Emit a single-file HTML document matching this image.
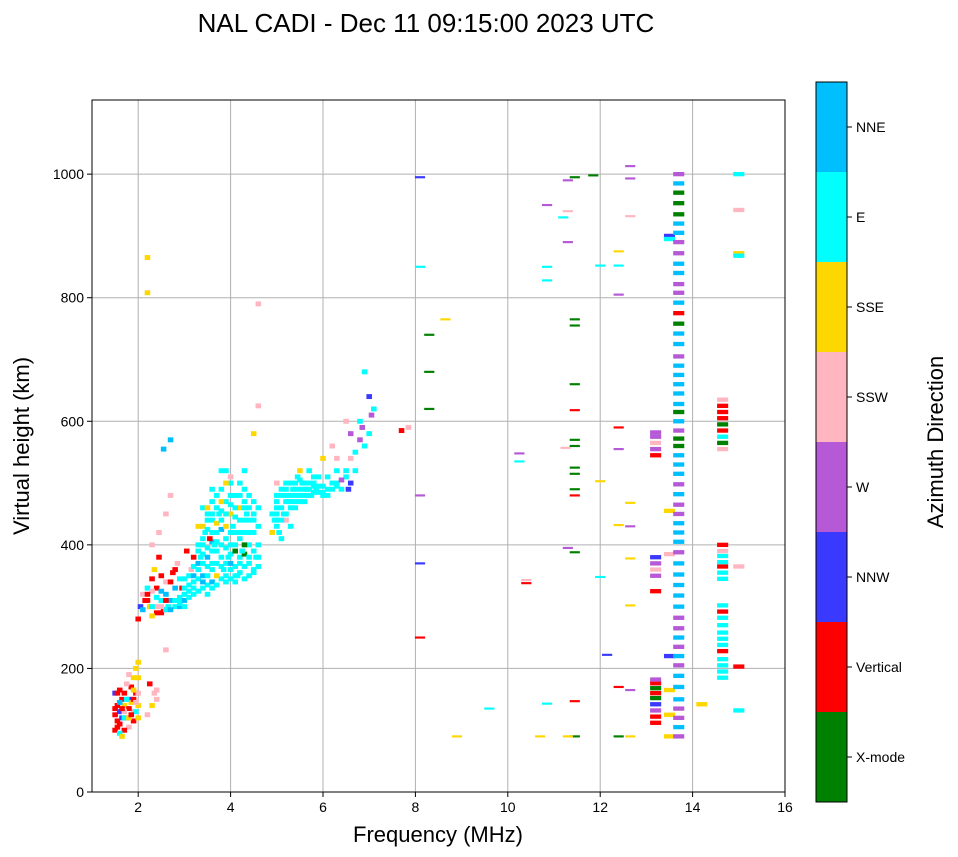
<!DOCTYPE html>
<html><head><meta charset="utf-8"><style>
html,body{margin:0;padding:0;background:#fff;width:958px;height:857px;overflow:hidden}
svg{display:block;font-family:"Liberation Sans","DejaVu Sans",sans-serif}
</style></head><body>
<svg id="chart" width="958" height="857"></svg>
<script>
const categories = ["X-mode","Vertical","NNW","W","SSW","SSE","E","NNE"];
const catColors = ["#008000","#ff0000","#3a3aff","#b659d6","#ffb6c1","#ffd700","#00ffff","#00bfff"];
const xTicks = [2,4,6,8,10,12,14,16];
const yTicks = [0,200,400,600,800,1000];
// [frequency MHz, virtual height km, direction index]
const points = [
[1.5,100,1],[1.55,115,1],[1.6,130,2],[1.65,150,1],[1.5,160,2],[1.7,140,5],[1.75,120,1],[1.8,105,4],[1.85,170,1],[1.9,185,5],[1.95,200,5],[2.0,210,5],[1.6,110,1],[1.7,160,1],[1.8,150,2],[1.9,130,4],[1.95,160,1],[2.0,140,5],[1.55,140,1],[1.65,120,2],[1.75,175,4],[1.85,145,5],[1.9,115,1],[1.7,100,1],[1.6,95,6],[1.8,190,4],[2.25,175,1],[2.35,160,4],[2.4,150,4],[2.3,140,5],[2.2,125,4],[2.4,165,4],[1.5,125,1],[1.6,145,7],[1.7,120,6],[1.8,135,1],[1.55,160,1],[2.0,185,5],[1.95,130,6],[1.65,90,5],[2.2,865,5],[2.2,808,5],
[1.5,135,1],[1.6,165,1],[1.7,130,4],[1.8,120,5],[1.9,150,1],[2.0,160,4],[1.55,105,1],[1.75,150,6],[1.85,125,1],[1.95,145,4],[2.0,120,5],[1.65,135,1],[1.9,165,5],
[2.0,280,1],[2.05,300,2],[2.1,320,4],[2.15,310,1],[2.2,330,6],[2.25,300,5],[2.3,345,1],[2.35,360,5],[2.4,300,4],[2.45,380,1],[2.5,310,6],[2.55,295,1],[2.6,340,4],[2.65,300,6],[2.75,355,1],[2.8,300,6],[2.85,370,4],[2.9,310,6],[2.95,330,1],[3.0,320,6],[3.05,390,1],[3.1,325,6],[3.15,360,4],[3.2,330,6],[2.3,400,4],[2.45,420,4],[2.6,450,4],[2.7,480,4],[2.55,555,7],[2.7,570,7],[2.3,300,6],[2.5,290,1],[2.6,295,6],[2.9,300,7],[3.0,300,6],[2.4,330,1],[2.5,350,1],[2.7,310,7],[2.8,330,7],[2.9,345,6],[2.6,320,7],[2.4,315,6],[2.8,360,1],[2.3,325,4],[2.2,310,1],[2.1,295,7],[2.6,230,4],
[2.5,300,4],[2.6,310,1],[2.7,295,7],[2.8,310,6],[2.4,290,1],[2.5,325,7],[2.7,340,1],[2.2,320,1],[2.3,285,5],
[2.9,305,6],[2.9,315,6],[3.0,310,7],[3.0,330,6],[3.1,315,6],[3.1,335,6],[3.1,350,6],[3.2,320,6],[3.2,350,7],[3.2,365,6],[3.3,325,6],[3.3,345,6],[3.3,370,7],[3.3,390,6],[3.4,330,6],[3.4,350,7],[3.4,385,6],[3.4,410,6],[3.4,430,5],[3.5,335,6],[3.5,365,6],[3.5,395,6],[3.5,425,6],[3.5,450,6],[3.6,340,7],[3.6,360,6],[3.6,390,6],[3.6,405,7],[3.6,440,6],[3.6,470,6],[3.7,335,6],[3.7,370,6],[3.7,405,6],[3.7,435,5],[3.7,460,6],[3.8,345,6],[3.8,365,6],[3.8,400,6],[3.8,425,7],[3.8,455,6],[3.8,490,6],[3.9,350,6],[3.9,370,6],[3.9,395,6],[3.9,430,5],[3.9,470,6],[3.9,520,6],[4.0,345,6],[4.0,360,6],[4.0,385,6],[4.0,420,6],[4.0,450,5],[4.0,465,6],[4.0,500,6],[4.1,350,6],[4.1,365,6],[4.1,400,6],[4.1,445,6],[4.1,480,6],[4.2,355,6],[4.2,380,6],[4.2,420,6],[4.2,460,5],[4.2,480,6],[4.3,345,6],[4.3,365,6],[4.3,385,0],[4.3,440,6],[4.3,460,6],[4.3,490,6],[4.4,350,6],[4.4,380,6],[4.4,400,6],[4.4,440,6],[4.4,460,6],[4.5,355,6],[4.5,390,6],[4.5,420,6],[4.5,450,6],[4.6,365,6],[4.6,380,6],[4.6,430,6],
[3.2,340,6],[3.3,360,6],[3.35,380,6],[3.4,400,6],[3.45,420,6],[3.5,440,6],[3.3,430,5],[3.5,350,6],[3.6,370,6],[3.65,400,6],[3.7,420,6],[3.75,450,6],[3.8,470,5],[3.85,360,6],[3.9,340,6],[3.95,380,6],[4.0,400,6],[4.05,430,6],[4.1,460,6],[4.15,350,6],[4.2,370,6],[4.25,390,6],[4.3,420,6],[4.35,450,6],[4.4,480,6],[4.5,360,6],[4.55,380,6],[3.6,490,6],[3.8,520,6],[3.9,500,5],[4.0,510,4],[4.2,500,6],[4.5,470,6],[3.4,460,6],[3.6,330,6],[3.7,350,5],[4.1,340,6],[4.3,400,0],[3.55,410,1],[3.2,380,1],[3.0,345,6],[4.4,420,6],[4.6,400,6],[3.4,340,7],[3.5,380,7],[3.6,420,6],[3.7,390,6],[3.8,440,6],[3.9,410,6],[4.0,370,7],[4.1,420,6],[4.2,440,6],[4.3,470,6],[3.3,400,6],[3.4,370,6],[3.5,460,5],[3.8,380,6],[3.9,450,6],[4.0,480,6],[4.2,410,6],[4.4,370,6],[4.5,440,6],[3.6,450,6],[3.7,480,6],[4.1,390,0],[3.5,320,6],[4.3,520,6],[4.6,460,6],[4.5,580,5],[4.6,625,4],[4.6,790,4],
[4.9,420,5],[4.95,440,6],[5.0,460,6],[5.05,420,6],[5.1,480,6],[5.15,450,6],[5.2,500,6],[5.25,470,6],[5.3,430,6],[5.35,490,6],[5.4,460,6],[5.45,510,6],[5.5,480,6],[5.55,500,6],[5.6,470,6],[5.65,490,6],[5.7,520,6],[5.75,480,6],[5.8,500,6],[5.85,490,6],[5.9,510,6],[5.0,500,4],[5.2,440,4],[5.5,520,5],[4.9,450,6],[5.1,410,6],[5.3,470,6],[5.4,490,6],[5.6,500,6],[5.7,490,6],[5.9,485,6],[5.2,470,6],[5.0,440,6],[5.3,500,6],
[5.0,430,6],[5.0,450,6],[5.0,470,6],[5.0,480,6],[5.1,440,6],[5.1,460,6],[5.1,490,6],[5.2,450,6],[5.2,480,6],[5.2,490,6],[5.3,460,6],[5.3,480,6],[5.4,470,6],[5.4,480,6],[5.4,500,6],[5.5,470,6],[5.5,490,6],[5.5,505,6],[5.6,480,6],[5.6,490,6],[5.7,480,6],[5.7,500,6],[5.8,485,6],[5.8,495,6],[5.8,510,6],[6.0,495,6],[6.1,480,6],[6.2,490,6],[6.3,500,6],[6.5,510,6],[5.9,495,6],[6.0,480,6],
[6.0,485,6],[6.1,490,6],[6.2,500,6],[6.3,495,6],[6.4,505,3],[6.5,520,6],[6.55,490,2],[6.6,540,4],[6.7,550,6],[6.8,570,3],[6.85,590,3],[6.9,560,6],[7.0,580,6],[7.05,610,3],[7.0,640,2],[6.9,680,6],[6.3,540,4],[6.2,560,4],[6.5,600,4],[6.0,540,5],[6.6,580,3],[7.7,585,1],[7.85,590,4],[6.4,490,6],[6.6,500,2],[6.7,520,6],[6.1,510,6],[6.3,520,6],[6.8,600,6],[7.1,620,6],
[8.1,995,2],[8.1,850,6],[8.3,740,0],[8.3,680,0],[8.3,620,0],[8.65,765,5],[8.1,480,3],[8.1,370,2],[8.1,250,1],[8.9,90,5],[9.6,135,6],[10.25,548,3],[10.25,535,6],[10.4,343,4],[10.4,338,1],[10.7,90,5],[10.85,950,3],[10.85,850,6],[10.85,828,6],[10.85,143,6],[11.2,930,6],[11.3,990,3],[11.3,940,4],[11.3,890,3],[11.3,395,3],[11.25,557,4],[11.45,765,0],[11.45,755,0],[11.45,660,0],[11.45,618,1],[11.45,570,0],[11.45,560,0],[11.45,525,0],[11.45,515,0],[11.45,490,0],[11.45,480,1],[11.45,388,0],[11.45,147,1],[11.45,90,0],[11.3,90,5],[11.45,995,0],[11.85,998,0],[12.0,852,6],[12.0,503,5],[12.0,348,6],[12.15,222,2],[12.4,875,5],[12.4,852,6],[12.4,805,3],[12.4,590,1],[12.4,555,3],[12.4,432,5],[12.4,170,1],[12.4,90,0],[12.65,1013,3],[12.65,993,3],[12.65,932,4],[12.65,468,5],[12.65,430,3],[12.65,378,5],[12.65,302,5],[12.65,165,3],[12.65,90,5],
[13.2,112,1],[13.2,122,1],[13.2,132,3],[13.2,142,2],[13.2,152,0],[13.2,160,1],[13.2,168,0],[13.2,176,1],[13.2,182,3],[13.2,325,1],[13.2,350,3],[13.2,360,4],[13.2,370,3],[13.2,380,2],[13.2,545,1],[13.2,555,3],[13.2,565,4],[13.2,575,3],[13.2,582,3],[13.5,455,5],[13.5,220,2],[13.5,165,5],[13.5,125,5],[13.5,90,5],[13.5,385,4],[13.5,900,2],[13.5,895,6],
[13.7,90,3],[13.7,105,7],[13.7,120,3],[13.7,135,3],[13.7,150,7],[13.7,170,7],[13.7,188,7],[13.7,205,3],[13.7,220,7],[13.7,235,3],[13.7,250,7],[13.7,265,3],[13.7,282,3],[13.7,300,7],[13.7,318,7],[13.7,335,7],[13.7,352,7],[13.7,370,7],[13.7,388,3],[13.7,405,7],[13.7,420,7],[13.7,435,7],[13.7,450,3],[13.7,465,3],[13.7,482,7],[13.7,498,3],[13.7,515,7],[13.7,530,7],[13.7,545,7],[13.7,560,0],[13.7,572,0],[13.7,585,3],[13.7,600,7],[13.7,615,0],[13.7,628,7],[13.7,645,7],[13.7,660,7],[13.7,675,7],[13.7,690,7],[13.7,705,3],[13.7,725,7],[13.7,742,7],[13.7,758,0],[13.7,775,1],[13.7,792,7],[13.7,808,3],[13.7,822,3],[13.7,840,7],[13.7,855,7],[13.7,872,3],[13.7,890,3],[13.7,905,7],[13.7,920,7],[13.7,935,0],[13.7,953,0],[13.7,970,0],[13.7,985,7],[13.7,1000,3],
[14.2,142,5],[14.65,185,6],[14.65,195,6],[14.65,205,6],[14.65,215,6],[14.65,228,1],[14.65,238,6],[14.65,248,6],[14.65,258,6],[14.65,270,6],[14.65,282,6],[14.65,292,1],[14.65,302,6],[14.65,345,6],[14.65,355,6],[14.65,365,1],[14.65,372,6],[14.65,382,6],[14.65,390,4],[14.65,400,1],[14.65,555,4],[14.65,565,0],[14.65,575,6],[14.65,585,1],[14.65,595,0],[14.65,605,1],[14.65,615,1],[14.65,625,1],[14.65,635,4],
[15.0,1000,6],[15.0,942,4],[15.0,872,5],[15.0,868,6],[15.0,365,4],[15.0,203,1],[15.0,132,6]
];

const NS="http://www.w3.org/2000/svg";
const svg=document.getElementById('chart');
const L=92,R=785,T=100,B=792;
const xMin=1,xMax=16,yMin=0,yMax=1120;
const xS=f=>L+(f-xMin)/(xMax-xMin)*(R-L);
const yS=h=>B-(h-yMin)/(yMax-yMin)*(B-T);
function mk(tag,attrs,parent){const e=document.createElementNS(NS,tag);for(const k in attrs)e.setAttribute(k,attrs[k]);(parent||svg).appendChild(e);return e;}

const title=mk('text',{x:426,y:32,'text-anchor':'middle','font-size':26});
title.textContent="NAL CADI - Dec 11 09:15:00 2023 UTC";



const grid=mk('g',{});


xTicks.forEach(t=>{mk('line',{x1:xS(t),x2:xS(t),y1:T,y2:B,stroke:'#b0b0b0','stroke-width':1},grid);});
yTicks.forEach(t=>{mk('line',{x1:L,x2:R,y1:yS(t),y2:yS(t),stroke:'#b0b0b0','stroke-width':1},grid);});

const marks=mk('g',{});


points.forEach(p=>{
  const f=p[0],h=p[1],d=p[2];
  const w=f<8?0.12:(f>=13&&f<15.2?0.24:0.22);
  const hh=f<8?8:(f>=13&&f<15.2?7:3.5);
  const r=mk('rect',{x:xS(f-w/2),y:yS(h+hh/2),width:xS(f+w/2)-xS(f-w/2),height:yS(h-hh/2)-yS(h+hh/2),fill:catColors[d]},marks);
  
  
});

const frame=mk('rect',{x:L,y:T,width:R-L,height:B-T,fill:'none',stroke:'#000','stroke-width':1});



const xa=mk('g',{});


xTicks.forEach(t=>{
  mk('line',{x1:xS(t),x2:xS(t),y1:B,y2:B+5,stroke:'#000'},xa);
  const tx=mk('text',{x:xS(t),y:B+20,'text-anchor':'middle','font-size':14},xa);tx.textContent=t;
});
const ya=mk('g',{});


yTicks.forEach(t=>{
  mk('line',{x1:L-5,x2:L,y1:yS(t),y2:yS(t),stroke:'#000'},ya);
  const tx=mk('text',{x:L-8,y:yS(t)+5,'text-anchor':'end','font-size':14},ya);tx.textContent=t;
});
const xl=mk('text',{x:438,y:842,'text-anchor':'middle','font-size':22});
xl.textContent="Frequency (MHz)";


const yl=mk('text',{x:0,y:0,'text-anchor':'middle','font-size':22,transform:'translate(29,446) rotate(-90)'});
yl.textContent="Virtual height (km)";



const cb=mk('g',{});


const cbT=82,cbB=802,cbL=816,cbR=847,n=categories.length,seg=(cbB-cbT)/n;
categories.forEach((c,i)=>{
  const y0=cbB-(i+1)*seg;
  const r=mk('rect',{x:cbL,y:y0,width:cbR-cbL,height:seg,fill:catColors[i]},cb);
  
  
  mk('line',{x1:cbR,x2:cbR+5,y1:y0+seg/2,y2:y0+seg/2,stroke:'#000'},cb);
  const tx=mk('text',{x:cbR+9,y:y0+seg/2+5,'font-size':14},cb);tx.textContent=c;
});
mk('rect',{x:cbL,y:cbT,width:cbR-cbL,height:cbB-cbT,fill:'none',stroke:'#000'},cb);
const cl=mk('text',{x:0,y:0,'text-anchor':'middle','font-size':22,transform:'translate(943,442) rotate(-90)'});
cl.textContent="Azimuth Direction";


</script>
</body></html>
